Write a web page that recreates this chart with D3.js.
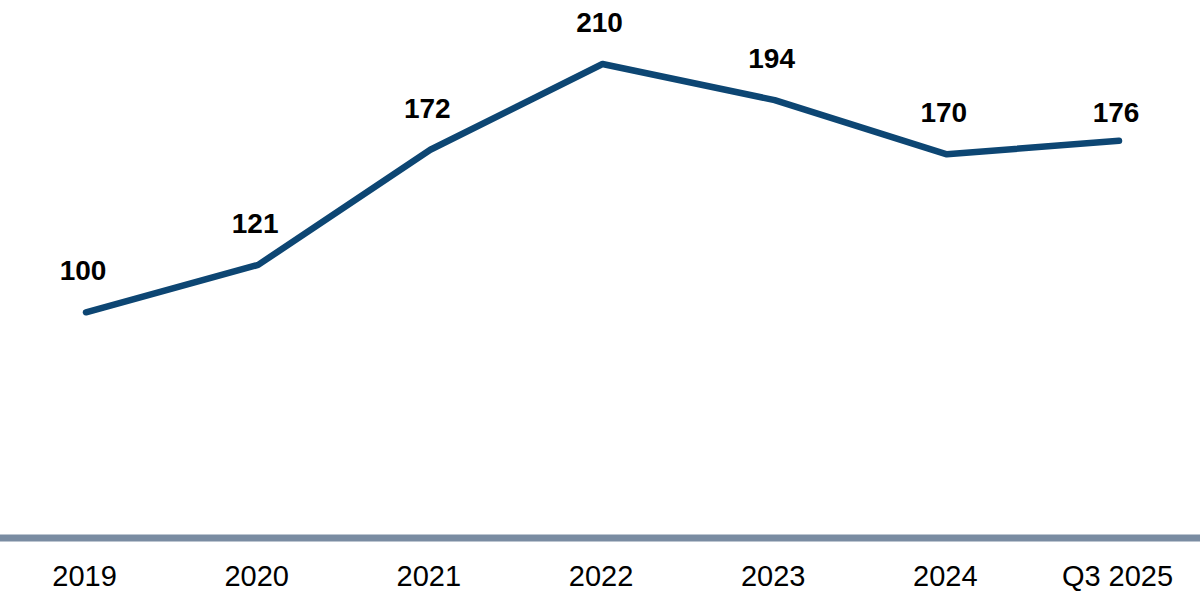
<!DOCTYPE html>
<html>
<head>
<meta charset="utf-8">
<script src="https://cdn.jsdelivr.net/npm/d3@7"></script>
<style>
  html, body { margin: 0; padding: 0; background: #fff; }
  svg { display: block; font-family: "Liberation Sans", Arial, sans-serif; }
</style>
</head>
<body>
<svg width="1200" height="602"></svg>
<script>
const categories = ['2019', '2020', '2021', '2022', '2023', '2024', 'Q3 2025'];
const values = [100, 121, 172, 210, 194, 170, 176];

const svg = d3.select('svg');
const width = 1200;

const x = d3.scalePoint()
    .domain(categories)
    .range([86, 1119]);

const y = d3.scaleLinear()
    .domain([0, 210])
    .range([538, 64]);

// baseline across the full width
svg.append('line')
    .attr('x1', 0)
    .attr('x2', width)
    .attr('y1', y(0))
    .attr('y2', y(0))
    .attr('stroke', '#7a8ca2')
    .attr('stroke-width', 7);

// category labels
const xAxis = svg.append('g')
    .attr('transform', `translate(0,${y(0)})`)
    .call(d3.axisBottom(x).tickSize(0).tickPadding(27));
xAxis.select('.domain').remove();
xAxis.selectAll('text')
    .attr('font-family', '"Liberation Sans", Arial, sans-serif')
    .attr('font-size', 29)
    .attr('fill', '#000')
    .attr('dx', -2);

const data = categories.map((c, i) => ({ cat: c, val: values[i] }));

const line = d3.line()
    .x(d => x(d.cat))
    .y(d => y(d.val));

svg.append('path')
    .datum(data)
    .attr('d', line)
    .attr('fill', 'none')
    .attr('stroke', '#0d4673')
    .attr('stroke-width', 6.5)
    .attr('stroke-linecap', 'round')
    .attr('stroke-linejoin', 'round');

// value labels
const last = data.length - 1;
svg.selectAll('text.val')
    .data(data).enter()
    .append('text')
    .attr('class', 'val')
    .attr('x', d => x(d.cat) - 3)
    .attr('y', (d, i) => y(d.val) - (i === last ? 19 : 32))
    .attr('text-anchor', 'middle')
    .attr('font-size', 28)
    .attr('font-weight', 'bold')
    .attr('fill', '#000')
    .text(d => d.val);
</script>
</body>
</html>
